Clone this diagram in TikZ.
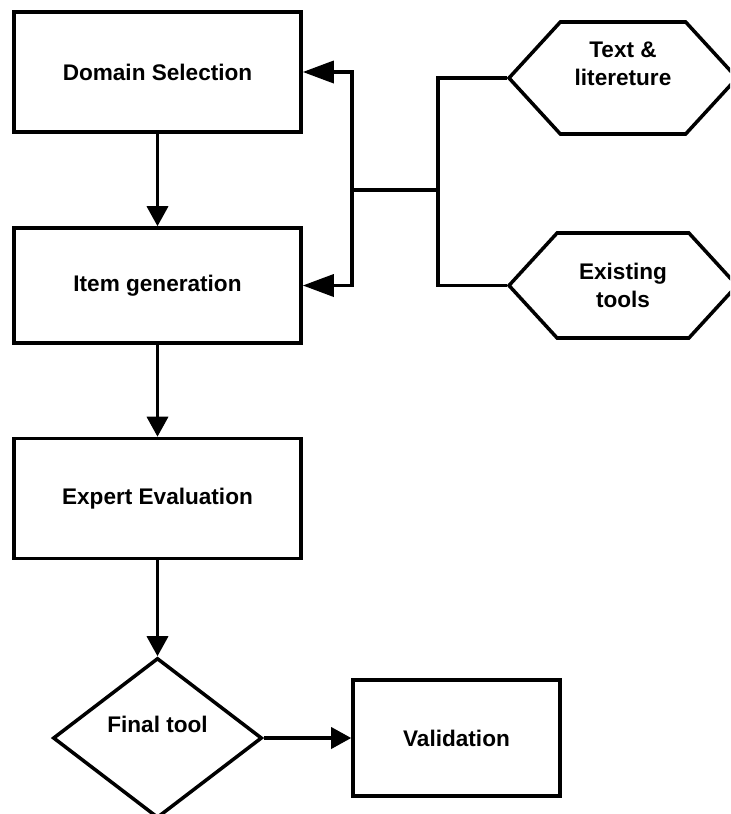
\documentclass[tikz,border=0pt]{standalone}
\usepackage{fontspec}
\setmainfont{Liberation Sans}
\usetikzlibrary{arrows.meta,positioning,shapes.geometric,shapes.symbols}

\begin{document}
\begin{tikzpicture}[
        font=\fontsize{12.85}{15.9}\selectfont\bfseries,
        box/.style={draw=black, line width=2pt, rectangle, minimum width=5.74cm, minimum height=2.4cm, align=center},
        src/.style={draw=black, line width=2pt, signal, signal to=west and east, signal pointer angle=95, minimum width=4.56cm, minimum height=2.24cm, inner sep=0pt, align=center},
        dec/.style={draw=black, line width=2pt, diamond, minimum width=4.18cm, minimum height=3.2cm, inner sep=0pt, align=center},
        line/.style={line width=2pt},
        arr/.style={line width=2pt, -{Triangle[length=4mm,width=4.2mm]}},
        feed/.style={line width=2pt, -{Triangle[length=6.2mm,width=4.4mm]}}
    ]
        \clip (0,0) rectangle (14.6,-16.28);

        % Main steps
        \node[box] (bDomain) at (3.15, -1.44) {Domain Selection};
        \node[box, minimum height=2.3cm] (bItem) at (3.15, -5.71) {Item generation};
        \node[box] (bExpert) at (3.15, -9.97) {Expert Evaluation};
        \node[dec] (dFinal) at (3.15, -14.76) {Final tool\\\mbox{}};
        \node[box, minimum width=4.14cm, minimum height=2.32cm] (bValid) at (9.13, -14.76) {Validation};

        % Sources
        \node[src] (sText) at (12.46, -1.56) {Text \&\\litereture\\\mbox{}};
        \node[src, minimum height=2.1cm] (sTools) at (12.46, -5.71) {Existing\\tools};

        % Junctions
        \coordinate (jRight) at (8.76, -3.8);
        \coordinate (jLeft) at (7.04, -3.8);

        % Connections
        \draw[arr] (bDomain) -- (bItem);
        \draw[arr] (bItem) -- (bExpert);
        \draw[arr] (bExpert) -- (dFinal);
        \draw[arr] (dFinal.east) -- (bValid.west);
        \draw[line] (sText.west) -| (jRight) |- (sTools.west);
        \draw[line] (jRight) -- (jLeft);
        \draw[feed] (jLeft) |- (bDomain.east);
        \draw[feed] (jLeft) |- (bItem.east);
    \end{tikzpicture}
\end{document}
